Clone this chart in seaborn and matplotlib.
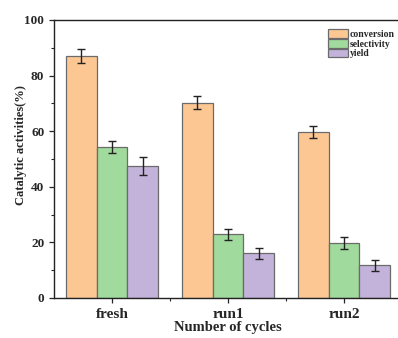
import pandas as pd
import numpy as np
import matplotlib
matplotlib.use("Agg")
import matplotlib.pyplot as plt
import seaborn as sns
from matplotlib.ticker import MultipleLocator, FixedLocator

# data
cycles = ["fresh", "run1", "run2"]
metrics = ["conversion", "selectivity", "yield"]
conversion = [87.2, 70.3, 59.7]
selectivity = [54.4, 22.9, 19.8]
yield_ = [47.4, 16.1, 11.8]
conversion_err = [2.5, 2.2, 2.3]
selectivity_err = [2.1, 2.0, 2.2]
yield_err = [3.2, 1.9, 2.0]

colors = ["#FDC794", "#A0DA9C", "#C3B2D9"]

# long form table for seaborn
data = pd.DataFrame({
    "cycle": cycles * 3,
    "metric": np.repeat(metrics, 3),
    "value": conversion + selectivity + yield_,
})
errors = [conversion_err, selectivity_err, yield_err]

sns.set_style("ticks")
plt.rcParams["font.family"] = ["Liberation Serif", "DejaVu Serif"]
plt.rcParams["font.weight"] = "bold"

fig = plt.figure(figsize=(3.98, 3.38), dpi=100)
ax = fig.add_axes([54 / 398, 40 / 338, 348 / 398, 278 / 338])

sns.barplot(
    data=data, x="cycle", y="value", hue="metric",
    order=cycles, hue_order=metrics, palette=colors,
    errorbar=None, edgecolor="#6b6b6b", linewidth=0.9,
    saturation=1, ax=ax
)

# error bars on top of each bar
for cont, err in zip(ax.containers, errors):
    xs = [b.get_x() + b.get_width() / 2 for b in cont]
    ys = [b.get_height() for b in cont]
    ax.errorbar(xs, ys, yerr=err, fmt="none", ecolor="#222222",
                elinewidth=1, capsize=2.8, capthick=1)

ax.set_xlim(-0.5, 2.5)
ax.set_ylim(0, 100)
ax.yaxis.set_major_locator(MultipleLocator(20))
ax.yaxis.set_minor_locator(MultipleLocator(10))
ax.xaxis.set_minor_locator(FixedLocator([0.5, 1.5]))
ax.tick_params(axis="both", which="major", direction="out", length=3.5, width=0.9)
ax.tick_params(axis="both", which="minor", direction="out", length=2.2, width=0.8)
ax.tick_params(axis="y", labelsize=9.5)
ax.tick_params(axis="x", labelsize=11)
for lab in ax.get_xticklabels() + ax.get_yticklabels():
    lab.set_fontweight("bold")

for s in ax.spines.values():
    s.set_linewidth(1)
    s.set_color("#222222")

ax.set_xlabel("Number of cycles", fontsize=10.5, fontweight="bold", labelpad=0)
ax.set_ylabel("Catalytic activities(%)", fontsize=9, fontweight="bold")
ax.yaxis.set_label_coords(-0.077, 0.55)

ax.legend(
    loc="upper left", bbox_to_anchor=(0.775, 0.98), frameon=False,
    prop={"size": 6.9, "weight": "bold"}, handlelength=2.1, handleheight=1.0,
    labelspacing=0.02, handletextpad=0.25, borderaxespad=0
)

fig.savefig("out.png", dpi=100)
